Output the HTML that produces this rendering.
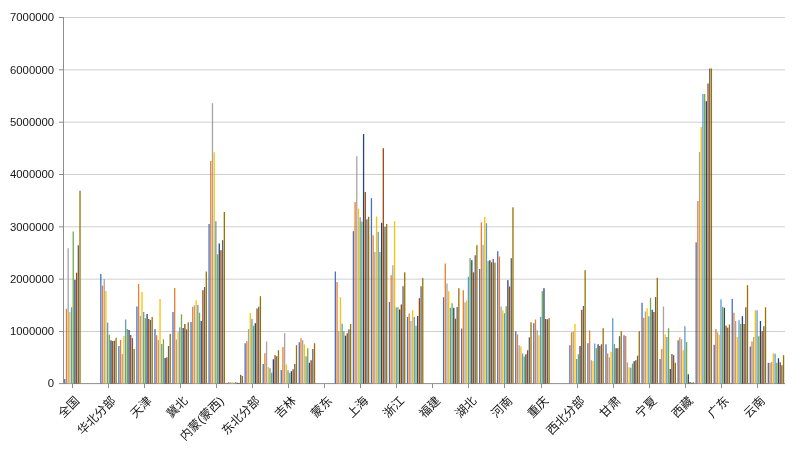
<!DOCTYPE html>
<html><head><meta charset="utf-8"><title>chart</title>
<style>html,body{margin:0;padding:0;background:#fff}svg{display:block}text{font-family:"Liberation Sans","Noto Sans CJK SC",sans-serif;fill:#161616}</style></head><body>
<svg width="798" height="453" viewBox="0 0 798 453">
<rect width="798" height="453" fill="#fff"/>
<rect x="64" y="331.00" width="721.00" height="1" fill="#d9d9d9"/>
<rect x="64" y="278.66" width="721.00" height="1" fill="#d9d9d9"/>
<rect x="64" y="226.33" width="721.00" height="1" fill="#d9d9d9"/>
<rect x="64" y="174.00" width="721.00" height="1" fill="#d9d9d9"/>
<rect x="64" y="121.67" width="721.00" height="1" fill="#d9d9d9"/>
<rect x="64" y="69.33" width="721.00" height="1" fill="#d9d9d9"/>
<rect x="64" y="17.00" width="721.00" height="1" fill="#d9d9d9"/>
<rect x="63" y="17.00" width="1" height="366.60" fill="#8e8e8e"/>
<rect x="63" y="383.1" width="722.00" height="1" fill="#8e8e8e"/>
<rect x="64.11" y="379.0" width="1.3" height="4.6" fill="#4472C4"/>
<rect x="65.80" y="308.8" width="1.3" height="74.9" fill="#ED7D31"/>
<rect x="67.50" y="248.2" width="1.3" height="135.4" fill="#A5A5A5"/>
<rect x="69.19" y="311.9" width="1.3" height="71.7" fill="#FFC000"/>
<rect x="70.89" y="307.3" width="1.3" height="76.3" fill="#5B9BD5"/>
<rect x="72.58" y="231.5" width="1.3" height="152.1" fill="#70AD47"/>
<rect x="74.28" y="279.8" width="1.3" height="103.8" fill="#264478"/>
<rect x="75.97" y="272.7" width="1.3" height="110.9" fill="#9E480E"/>
<rect x="77.67" y="245.2" width="1.3" height="138.4" fill="#636363"/>
<rect x="79.36" y="190.7" width="1.3" height="192.9" fill="#997300"/>
<rect x="100.19" y="274.0" width="1.3" height="109.6" fill="#4472C4"/>
<rect x="101.88" y="285.7" width="1.3" height="97.9" fill="#ED7D31"/>
<rect x="103.58" y="279.0" width="1.3" height="104.6" fill="#A5A5A5"/>
<rect x="105.27" y="291.0" width="1.3" height="92.6" fill="#FFC000"/>
<rect x="106.97" y="322.7" width="1.3" height="60.9" fill="#5B9BD5"/>
<rect x="108.66" y="334.8" width="1.3" height="48.8" fill="#70AD47"/>
<rect x="110.36" y="340.3" width="1.3" height="43.3" fill="#264478"/>
<rect x="112.05" y="341.0" width="1.3" height="42.6" fill="#9E480E"/>
<rect x="113.75" y="340.7" width="1.3" height="42.9" fill="#636363"/>
<rect x="115.44" y="337.8" width="1.3" height="45.8" fill="#997300"/>
<rect x="118.23" y="346.0" width="1.3" height="37.6" fill="#4472C4"/>
<rect x="119.92" y="340.0" width="1.3" height="43.6" fill="#ED7D31"/>
<rect x="121.62" y="354.0" width="1.3" height="29.6" fill="#A5A5A5"/>
<rect x="123.31" y="336.0" width="1.3" height="47.6" fill="#FFC000"/>
<rect x="125.01" y="319.5" width="1.3" height="64.1" fill="#5B9BD5"/>
<rect x="126.70" y="329.0" width="1.3" height="54.6" fill="#70AD47"/>
<rect x="128.40" y="330.0" width="1.3" height="53.6" fill="#264478"/>
<rect x="130.09" y="335.0" width="1.3" height="48.6" fill="#9E480E"/>
<rect x="131.79" y="338.2" width="1.3" height="45.4" fill="#636363"/>
<rect x="133.49" y="349.0" width="1.3" height="34.6" fill="#997300"/>
<rect x="136.27" y="306.5" width="1.3" height="77.1" fill="#4472C4"/>
<rect x="137.96" y="284.0" width="1.3" height="99.6" fill="#ED7D31"/>
<rect x="139.66" y="316.0" width="1.3" height="67.6" fill="#A5A5A5"/>
<rect x="141.35" y="291.8" width="1.3" height="91.8" fill="#FFC000"/>
<rect x="143.05" y="312.0" width="1.3" height="71.6" fill="#5B9BD5"/>
<rect x="144.74" y="318.2" width="1.3" height="65.4" fill="#70AD47"/>
<rect x="146.44" y="314.0" width="1.3" height="69.6" fill="#264478"/>
<rect x="148.13" y="319.0" width="1.3" height="64.6" fill="#9E480E"/>
<rect x="149.83" y="320.0" width="1.3" height="63.6" fill="#636363"/>
<rect x="151.52" y="317.0" width="1.3" height="66.6" fill="#997300"/>
<rect x="154.31" y="329.0" width="1.3" height="54.6" fill="#4472C4"/>
<rect x="156.00" y="335.2" width="1.3" height="48.4" fill="#ED7D31"/>
<rect x="157.70" y="340.0" width="1.3" height="43.6" fill="#A5A5A5"/>
<rect x="159.39" y="299.0" width="1.3" height="84.6" fill="#FFC000"/>
<rect x="161.09" y="344.0" width="1.3" height="39.6" fill="#5B9BD5"/>
<rect x="162.78" y="339.3" width="1.3" height="44.3" fill="#70AD47"/>
<rect x="164.48" y="358.0" width="1.3" height="25.6" fill="#264478"/>
<rect x="166.17" y="357.3" width="1.3" height="26.3" fill="#9E480E"/>
<rect x="167.87" y="346.0" width="1.3" height="37.6" fill="#636363"/>
<rect x="169.56" y="334.0" width="1.3" height="49.6" fill="#997300"/>
<rect x="172.35" y="312.0" width="1.3" height="71.6" fill="#4472C4"/>
<rect x="174.04" y="288.0" width="1.3" height="95.6" fill="#ED7D31"/>
<rect x="175.74" y="339.5" width="1.3" height="44.1" fill="#A5A5A5"/>
<rect x="177.44" y="331.8" width="1.3" height="51.8" fill="#FFC000"/>
<rect x="179.13" y="327.3" width="1.3" height="56.3" fill="#5B9BD5"/>
<rect x="180.82" y="314.3" width="1.3" height="69.3" fill="#70AD47"/>
<rect x="182.52" y="328.0" width="1.3" height="55.6" fill="#264478"/>
<rect x="184.22" y="324.0" width="1.3" height="59.6" fill="#9E480E"/>
<rect x="185.91" y="329.3" width="1.3" height="54.3" fill="#636363"/>
<rect x="187.60" y="322.3" width="1.3" height="61.3" fill="#997300"/>
<rect x="190.39" y="322.0" width="1.3" height="61.6" fill="#4472C4"/>
<rect x="192.08" y="306.8" width="1.3" height="76.8" fill="#ED7D31"/>
<rect x="193.78" y="305.3" width="1.3" height="78.3" fill="#A5A5A5"/>
<rect x="195.47" y="300.2" width="1.3" height="83.4" fill="#FFC000"/>
<rect x="197.17" y="304.8" width="1.3" height="78.8" fill="#5B9BD5"/>
<rect x="198.86" y="312.7" width="1.3" height="70.9" fill="#70AD47"/>
<rect x="200.56" y="321.0" width="1.3" height="62.6" fill="#264478"/>
<rect x="202.25" y="290.2" width="1.3" height="93.4" fill="#9E480E"/>
<rect x="203.95" y="287.0" width="1.3" height="96.6" fill="#636363"/>
<rect x="205.64" y="271.5" width="1.3" height="112.1" fill="#997300"/>
<rect x="208.43" y="224.0" width="1.3" height="159.6" fill="#4472C4"/>
<rect x="210.12" y="161.0" width="1.3" height="222.6" fill="#ED7D31"/>
<rect x="211.82" y="103.2" width="1.3" height="280.4" fill="#A5A5A5"/>
<rect x="213.51" y="152.3" width="1.3" height="231.3" fill="#FFC000"/>
<rect x="215.21" y="221.2" width="1.3" height="162.4" fill="#5B9BD5"/>
<rect x="216.90" y="254.3" width="1.3" height="129.3" fill="#70AD47"/>
<rect x="218.60" y="243.5" width="1.3" height="140.1" fill="#264478"/>
<rect x="220.29" y="250.2" width="1.3" height="133.4" fill="#9E480E"/>
<rect x="221.99" y="240.2" width="1.3" height="143.4" fill="#636363"/>
<rect x="223.68" y="212.0" width="1.3" height="171.6" fill="#997300"/>
<rect x="226.47" y="382.8" width="1.3" height="0.8" fill="#4472C4"/>
<rect x="228.16" y="382.0" width="1.3" height="1.6" fill="#ED7D31"/>
<rect x="229.86" y="382.3" width="1.3" height="1.3" fill="#A5A5A5"/>
<rect x="231.55" y="382.3" width="1.3" height="1.3" fill="#FFC000"/>
<rect x="233.25" y="382.8" width="1.3" height="0.8" fill="#5B9BD5"/>
<rect x="234.94" y="382.0" width="1.3" height="1.6" fill="#70AD47"/>
<rect x="236.64" y="382.8" width="1.3" height="0.8" fill="#264478"/>
<rect x="238.33" y="382.8" width="1.3" height="0.8" fill="#9E480E"/>
<rect x="240.03" y="374.8" width="1.3" height="8.8" fill="#636363"/>
<rect x="241.72" y="376.0" width="1.3" height="7.6" fill="#997300"/>
<rect x="244.51" y="343.3" width="1.3" height="40.3" fill="#4472C4"/>
<rect x="246.20" y="341.2" width="1.3" height="42.4" fill="#ED7D31"/>
<rect x="247.90" y="329.0" width="1.3" height="54.6" fill="#A5A5A5"/>
<rect x="249.59" y="313.0" width="1.3" height="70.6" fill="#FFC000"/>
<rect x="251.29" y="319.0" width="1.3" height="64.6" fill="#5B9BD5"/>
<rect x="252.98" y="325.7" width="1.3" height="57.9" fill="#70AD47"/>
<rect x="254.68" y="323.2" width="1.3" height="60.4" fill="#264478"/>
<rect x="256.38" y="308.5" width="1.3" height="75.1" fill="#9E480E"/>
<rect x="258.07" y="306.8" width="1.3" height="76.8" fill="#636363"/>
<rect x="259.76" y="296.2" width="1.3" height="87.4" fill="#997300"/>
<rect x="262.55" y="364.0" width="1.3" height="19.6" fill="#4472C4"/>
<rect x="264.25" y="353.2" width="1.3" height="30.4" fill="#ED7D31"/>
<rect x="265.94" y="341.5" width="1.3" height="42.1" fill="#A5A5A5"/>
<rect x="267.63" y="367.0" width="1.3" height="16.6" fill="#FFC000"/>
<rect x="269.33" y="368.2" width="1.3" height="15.4" fill="#5B9BD5"/>
<rect x="271.03" y="372.7" width="1.3" height="10.9" fill="#70AD47"/>
<rect x="272.72" y="359.3" width="1.3" height="24.3" fill="#264478"/>
<rect x="274.42" y="355.2" width="1.3" height="28.4" fill="#9E480E"/>
<rect x="276.11" y="356.2" width="1.3" height="27.4" fill="#636363"/>
<rect x="277.81" y="350.3" width="1.3" height="33.3" fill="#997300"/>
<rect x="280.59" y="370.0" width="1.3" height="13.6" fill="#4472C4"/>
<rect x="282.29" y="347.0" width="1.3" height="36.6" fill="#ED7D31"/>
<rect x="283.98" y="333.2" width="1.3" height="50.4" fill="#A5A5A5"/>
<rect x="285.68" y="364.5" width="1.3" height="19.1" fill="#FFC000"/>
<rect x="287.37" y="370.2" width="1.3" height="13.4" fill="#5B9BD5"/>
<rect x="289.07" y="372.8" width="1.3" height="10.8" fill="#70AD47"/>
<rect x="290.76" y="371.2" width="1.3" height="12.4" fill="#264478"/>
<rect x="292.46" y="369.3" width="1.3" height="14.3" fill="#9E480E"/>
<rect x="294.15" y="364.0" width="1.3" height="19.6" fill="#636363"/>
<rect x="295.85" y="345.2" width="1.3" height="38.4" fill="#997300"/>
<rect x="298.63" y="342.3" width="1.3" height="41.3" fill="#4472C4"/>
<rect x="300.32" y="338.2" width="1.3" height="45.4" fill="#ED7D31"/>
<rect x="302.02" y="340.2" width="1.3" height="43.4" fill="#A5A5A5"/>
<rect x="303.71" y="344.3" width="1.3" height="39.3" fill="#FFC000"/>
<rect x="305.41" y="356.2" width="1.3" height="27.4" fill="#5B9BD5"/>
<rect x="307.11" y="348.3" width="1.3" height="35.3" fill="#70AD47"/>
<rect x="308.80" y="362.8" width="1.3" height="20.8" fill="#264478"/>
<rect x="310.50" y="360.2" width="1.3" height="23.4" fill="#9E480E"/>
<rect x="312.19" y="349.0" width="1.3" height="34.6" fill="#636363"/>
<rect x="313.88" y="343.2" width="1.3" height="40.4" fill="#997300"/>
<rect x="334.71" y="271.5" width="1.3" height="112.1" fill="#4472C4"/>
<rect x="336.40" y="282.0" width="1.3" height="101.6" fill="#ED7D31"/>
<rect x="338.10" y="331.2" width="1.3" height="52.4" fill="#A5A5A5"/>
<rect x="339.79" y="297.3" width="1.3" height="86.3" fill="#FFC000"/>
<rect x="341.49" y="323.7" width="1.3" height="59.9" fill="#5B9BD5"/>
<rect x="343.19" y="331.2" width="1.3" height="52.4" fill="#70AD47"/>
<rect x="344.88" y="335.7" width="1.3" height="47.9" fill="#264478"/>
<rect x="346.57" y="333.2" width="1.3" height="50.4" fill="#9E480E"/>
<rect x="348.27" y="329.3" width="1.3" height="54.3" fill="#636363"/>
<rect x="349.96" y="324.0" width="1.3" height="59.6" fill="#997300"/>
<rect x="352.75" y="231.2" width="1.3" height="152.4" fill="#4472C4"/>
<rect x="354.44" y="202.0" width="1.3" height="181.6" fill="#ED7D31"/>
<rect x="356.14" y="156.2" width="1.3" height="227.4" fill="#A5A5A5"/>
<rect x="357.83" y="208.7" width="1.3" height="174.9" fill="#FFC000"/>
<rect x="359.53" y="217.3" width="1.3" height="166.3" fill="#5B9BD5"/>
<rect x="361.23" y="221.5" width="1.3" height="162.1" fill="#70AD47"/>
<rect x="362.92" y="134.0" width="1.3" height="249.6" fill="#264478"/>
<rect x="364.62" y="192.0" width="1.3" height="191.6" fill="#9E480E"/>
<rect x="366.31" y="219.3" width="1.3" height="164.3" fill="#636363"/>
<rect x="368.00" y="216.8" width="1.3" height="166.8" fill="#997300"/>
<rect x="370.79" y="198.2" width="1.3" height="185.4" fill="#4472C4"/>
<rect x="372.49" y="235.3" width="1.3" height="148.3" fill="#ED7D31"/>
<rect x="374.18" y="252.0" width="1.3" height="131.6" fill="#A5A5A5"/>
<rect x="375.88" y="216.5" width="1.3" height="167.1" fill="#FFC000"/>
<rect x="377.57" y="231.8" width="1.3" height="151.8" fill="#5B9BD5"/>
<rect x="379.27" y="252.0" width="1.3" height="131.6" fill="#70AD47"/>
<rect x="380.96" y="222.8" width="1.3" height="160.8" fill="#264478"/>
<rect x="382.66" y="148.2" width="1.3" height="235.4" fill="#9E480E"/>
<rect x="384.35" y="226.8" width="1.3" height="156.8" fill="#636363"/>
<rect x="386.05" y="224.0" width="1.3" height="159.6" fill="#997300"/>
<rect x="388.83" y="302.0" width="1.3" height="81.6" fill="#4472C4"/>
<rect x="390.52" y="275.2" width="1.3" height="108.4" fill="#ED7D31"/>
<rect x="392.22" y="265.3" width="1.3" height="118.3" fill="#A5A5A5"/>
<rect x="393.91" y="221.2" width="1.3" height="162.4" fill="#FFC000"/>
<rect x="395.61" y="307.3" width="1.3" height="76.3" fill="#5B9BD5"/>
<rect x="397.31" y="307.3" width="1.3" height="76.3" fill="#70AD47"/>
<rect x="399.00" y="309.5" width="1.3" height="74.1" fill="#264478"/>
<rect x="400.69" y="304.5" width="1.3" height="79.1" fill="#9E480E"/>
<rect x="402.39" y="286.2" width="1.3" height="97.4" fill="#636363"/>
<rect x="404.08" y="272.3" width="1.3" height="111.3" fill="#997300"/>
<rect x="406.87" y="317.0" width="1.3" height="66.6" fill="#4472C4"/>
<rect x="408.56" y="313.5" width="1.3" height="70.1" fill="#ED7D31"/>
<rect x="410.26" y="321.0" width="1.3" height="62.6" fill="#A5A5A5"/>
<rect x="411.95" y="310.3" width="1.3" height="73.3" fill="#FFC000"/>
<rect x="413.65" y="317.0" width="1.3" height="66.6" fill="#5B9BD5"/>
<rect x="415.35" y="325.7" width="1.3" height="57.9" fill="#70AD47"/>
<rect x="417.04" y="316.0" width="1.3" height="67.6" fill="#264478"/>
<rect x="418.74" y="298.2" width="1.3" height="85.4" fill="#9E480E"/>
<rect x="420.43" y="286.2" width="1.3" height="97.4" fill="#636363"/>
<rect x="422.12" y="278.2" width="1.3" height="105.4" fill="#997300"/>
<rect x="442.95" y="297.3" width="1.3" height="86.3" fill="#4472C4"/>
<rect x="444.64" y="263.5" width="1.3" height="120.1" fill="#ED7D31"/>
<rect x="446.34" y="283.5" width="1.3" height="100.1" fill="#A5A5A5"/>
<rect x="448.03" y="291.2" width="1.3" height="92.4" fill="#FFC000"/>
<rect x="449.73" y="307.8" width="1.3" height="75.8" fill="#5B9BD5"/>
<rect x="451.43" y="303.2" width="1.3" height="80.4" fill="#70AD47"/>
<rect x="453.12" y="307.8" width="1.3" height="75.8" fill="#264478"/>
<rect x="454.81" y="318.7" width="1.3" height="64.9" fill="#9E480E"/>
<rect x="456.51" y="307.0" width="1.3" height="76.6" fill="#636363"/>
<rect x="458.20" y="288.2" width="1.3" height="95.4" fill="#997300"/>
<rect x="460.99" y="328.5" width="1.3" height="55.1" fill="#4472C4"/>
<rect x="462.69" y="290.2" width="1.3" height="93.4" fill="#ED7D31"/>
<rect x="464.38" y="302.3" width="1.3" height="81.3" fill="#A5A5A5"/>
<rect x="466.07" y="300.3" width="1.3" height="83.3" fill="#FFC000"/>
<rect x="467.77" y="276.8" width="1.3" height="106.8" fill="#5B9BD5"/>
<rect x="469.47" y="258.2" width="1.3" height="125.4" fill="#70AD47"/>
<rect x="471.16" y="260.2" width="1.3" height="123.4" fill="#264478"/>
<rect x="472.86" y="272.3" width="1.3" height="111.3" fill="#9E480E"/>
<rect x="474.55" y="255.3" width="1.3" height="128.3" fill="#636363"/>
<rect x="476.25" y="245.2" width="1.3" height="138.4" fill="#997300"/>
<rect x="479.03" y="269.0" width="1.3" height="114.6" fill="#4472C4"/>
<rect x="480.72" y="222.3" width="1.3" height="161.3" fill="#ED7D31"/>
<rect x="482.42" y="244.8" width="1.3" height="138.8" fill="#A5A5A5"/>
<rect x="484.11" y="217.0" width="1.3" height="166.6" fill="#FFC000"/>
<rect x="485.81" y="223.2" width="1.3" height="160.4" fill="#5B9BD5"/>
<rect x="487.50" y="261.0" width="1.3" height="122.6" fill="#70AD47"/>
<rect x="489.20" y="260.2" width="1.3" height="123.4" fill="#264478"/>
<rect x="490.89" y="262.3" width="1.3" height="121.3" fill="#9E480E"/>
<rect x="492.59" y="259.0" width="1.3" height="124.6" fill="#636363"/>
<rect x="494.28" y="262.7" width="1.3" height="120.9" fill="#997300"/>
<rect x="497.07" y="251.2" width="1.3" height="132.4" fill="#4472C4"/>
<rect x="498.76" y="256.5" width="1.3" height="127.1" fill="#ED7D31"/>
<rect x="500.46" y="306.5" width="1.3" height="77.1" fill="#A5A5A5"/>
<rect x="502.15" y="310.3" width="1.3" height="73.3" fill="#FFC000"/>
<rect x="503.85" y="313.2" width="1.3" height="70.4" fill="#5B9BD5"/>
<rect x="505.55" y="306.2" width="1.3" height="77.4" fill="#70AD47"/>
<rect x="507.24" y="280.2" width="1.3" height="103.4" fill="#264478"/>
<rect x="508.94" y="286.5" width="1.3" height="97.1" fill="#9E480E"/>
<rect x="510.63" y="258.2" width="1.3" height="125.4" fill="#636363"/>
<rect x="512.33" y="207.3" width="1.3" height="176.3" fill="#997300"/>
<rect x="515.11" y="331.2" width="1.3" height="52.4" fill="#4472C4"/>
<rect x="516.81" y="334.3" width="1.3" height="49.3" fill="#ED7D31"/>
<rect x="518.50" y="345.3" width="1.3" height="38.3" fill="#A5A5A5"/>
<rect x="520.20" y="346.5" width="1.3" height="37.1" fill="#FFC000"/>
<rect x="521.89" y="353.5" width="1.3" height="30.1" fill="#5B9BD5"/>
<rect x="523.59" y="356.5" width="1.3" height="27.1" fill="#70AD47"/>
<rect x="525.28" y="354.3" width="1.3" height="29.3" fill="#264478"/>
<rect x="526.98" y="350.3" width="1.3" height="33.3" fill="#9E480E"/>
<rect x="528.67" y="337.3" width="1.3" height="46.3" fill="#636363"/>
<rect x="530.37" y="322.3" width="1.3" height="61.3" fill="#997300"/>
<rect x="533.15" y="323.2" width="1.3" height="60.4" fill="#4472C4"/>
<rect x="534.85" y="319.5" width="1.3" height="64.1" fill="#ED7D31"/>
<rect x="536.54" y="330.2" width="1.3" height="53.4" fill="#A5A5A5"/>
<rect x="538.24" y="335.2" width="1.3" height="48.4" fill="#FFC000"/>
<rect x="539.93" y="317.0" width="1.3" height="66.6" fill="#5B9BD5"/>
<rect x="541.62" y="291.2" width="1.3" height="92.4" fill="#70AD47"/>
<rect x="543.32" y="288.2" width="1.3" height="95.4" fill="#264478"/>
<rect x="545.01" y="319.0" width="1.3" height="64.6" fill="#9E480E"/>
<rect x="546.71" y="319.3" width="1.3" height="64.3" fill="#636363"/>
<rect x="548.40" y="318.2" width="1.3" height="65.4" fill="#997300"/>
<rect x="569.23" y="345.2" width="1.3" height="38.4" fill="#4472C4"/>
<rect x="570.93" y="332.3" width="1.3" height="51.3" fill="#ED7D31"/>
<rect x="572.62" y="331.5" width="1.3" height="52.1" fill="#A5A5A5"/>
<rect x="574.32" y="324.0" width="1.3" height="59.6" fill="#FFC000"/>
<rect x="576.01" y="359.0" width="1.3" height="24.6" fill="#5B9BD5"/>
<rect x="577.71" y="354.3" width="1.3" height="29.3" fill="#70AD47"/>
<rect x="579.40" y="346.0" width="1.3" height="37.6" fill="#264478"/>
<rect x="581.10" y="309.8" width="1.3" height="73.8" fill="#9E480E"/>
<rect x="582.79" y="306.0" width="1.3" height="77.6" fill="#636363"/>
<rect x="584.49" y="270.2" width="1.3" height="113.4" fill="#997300"/>
<rect x="587.27" y="343.2" width="1.3" height="40.4" fill="#4472C4"/>
<rect x="588.97" y="330.3" width="1.3" height="53.3" fill="#ED7D31"/>
<rect x="590.66" y="360.2" width="1.3" height="23.4" fill="#A5A5A5"/>
<rect x="592.36" y="361.0" width="1.3" height="22.6" fill="#FFC000"/>
<rect x="594.05" y="343.5" width="1.3" height="40.1" fill="#5B9BD5"/>
<rect x="595.75" y="348.2" width="1.3" height="35.4" fill="#70AD47"/>
<rect x="597.44" y="344.3" width="1.3" height="39.3" fill="#264478"/>
<rect x="599.13" y="346.0" width="1.3" height="37.6" fill="#9E480E"/>
<rect x="600.83" y="344.3" width="1.3" height="39.3" fill="#636363"/>
<rect x="602.52" y="328.2" width="1.3" height="55.4" fill="#997300"/>
<rect x="605.31" y="344.3" width="1.3" height="39.3" fill="#4472C4"/>
<rect x="607.00" y="353.5" width="1.3" height="30.1" fill="#ED7D31"/>
<rect x="608.70" y="357.3" width="1.3" height="26.3" fill="#A5A5A5"/>
<rect x="610.39" y="351.8" width="1.3" height="31.8" fill="#FFC000"/>
<rect x="612.09" y="318.2" width="1.3" height="65.4" fill="#5B9BD5"/>
<rect x="613.78" y="344.0" width="1.3" height="39.6" fill="#70AD47"/>
<rect x="615.48" y="348.2" width="1.3" height="35.4" fill="#264478"/>
<rect x="617.17" y="348.2" width="1.3" height="35.4" fill="#9E480E"/>
<rect x="618.87" y="336.2" width="1.3" height="47.4" fill="#636363"/>
<rect x="620.56" y="331.2" width="1.3" height="52.4" fill="#997300"/>
<rect x="623.35" y="335.2" width="1.3" height="48.4" fill="#4472C4"/>
<rect x="625.05" y="336.0" width="1.3" height="47.6" fill="#ED7D31"/>
<rect x="626.74" y="362.3" width="1.3" height="21.3" fill="#A5A5A5"/>
<rect x="628.44" y="367.3" width="1.3" height="16.3" fill="#FFC000"/>
<rect x="630.13" y="367.7" width="1.3" height="15.9" fill="#5B9BD5"/>
<rect x="631.83" y="363.7" width="1.3" height="19.9" fill="#70AD47"/>
<rect x="633.52" y="361.2" width="1.3" height="22.4" fill="#264478"/>
<rect x="635.22" y="360.2" width="1.3" height="23.4" fill="#9E480E"/>
<rect x="636.91" y="355.7" width="1.3" height="27.9" fill="#636363"/>
<rect x="638.61" y="331.2" width="1.3" height="52.4" fill="#997300"/>
<rect x="641.39" y="302.8" width="1.3" height="80.8" fill="#4472C4"/>
<rect x="643.09" y="317.8" width="1.3" height="65.8" fill="#ED7D31"/>
<rect x="644.78" y="311.5" width="1.3" height="72.1" fill="#A5A5A5"/>
<rect x="646.48" y="308.2" width="1.3" height="75.4" fill="#FFC000"/>
<rect x="648.17" y="316.2" width="1.3" height="67.4" fill="#5B9BD5"/>
<rect x="649.87" y="297.8" width="1.3" height="85.8" fill="#70AD47"/>
<rect x="651.56" y="309.8" width="1.3" height="73.8" fill="#264478"/>
<rect x="653.25" y="312.0" width="1.3" height="71.6" fill="#9E480E"/>
<rect x="654.95" y="297.0" width="1.3" height="86.6" fill="#636363"/>
<rect x="656.64" y="277.8" width="1.3" height="105.8" fill="#997300"/>
<rect x="659.43" y="359.0" width="1.3" height="24.6" fill="#4472C4"/>
<rect x="661.12" y="349.0" width="1.3" height="34.6" fill="#ED7D31"/>
<rect x="662.82" y="306.5" width="1.3" height="77.1" fill="#A5A5A5"/>
<rect x="664.51" y="334.5" width="1.3" height="49.1" fill="#FFC000"/>
<rect x="666.21" y="337.0" width="1.3" height="46.6" fill="#5B9BD5"/>
<rect x="667.90" y="328.2" width="1.3" height="55.4" fill="#70AD47"/>
<rect x="669.60" y="369.0" width="1.3" height="14.6" fill="#264478"/>
<rect x="671.29" y="354.0" width="1.3" height="29.6" fill="#9E480E"/>
<rect x="672.99" y="355.2" width="1.3" height="28.4" fill="#636363"/>
<rect x="674.68" y="362.8" width="1.3" height="20.8" fill="#997300"/>
<rect x="677.47" y="340.2" width="1.3" height="43.4" fill="#4472C4"/>
<rect x="679.17" y="337.3" width="1.3" height="46.3" fill="#ED7D31"/>
<rect x="680.86" y="339.3" width="1.3" height="44.3" fill="#A5A5A5"/>
<rect x="682.56" y="350.2" width="1.3" height="33.4" fill="#FFC000"/>
<rect x="684.25" y="326.2" width="1.3" height="57.4" fill="#5B9BD5"/>
<rect x="685.95" y="342.0" width="1.3" height="41.6" fill="#70AD47"/>
<rect x="687.64" y="374.3" width="1.3" height="9.3" fill="#264478"/>
<rect x="689.34" y="382.0" width="1.3" height="1.6" fill="#9E480E"/>
<rect x="691.03" y="382.7" width="1.3" height="0.9" fill="#636363"/>
<rect x="692.73" y="382.3" width="1.3" height="1.3" fill="#997300"/>
<rect x="695.51" y="242.3" width="1.3" height="141.3" fill="#4472C4"/>
<rect x="697.21" y="201.0" width="1.3" height="182.6" fill="#ED7D31"/>
<rect x="698.90" y="152.0" width="1.3" height="231.6" fill="#A5A5A5"/>
<rect x="700.60" y="127.0" width="1.3" height="256.6" fill="#FFC000"/>
<rect x="702.29" y="94.0" width="1.3" height="289.6" fill="#5B9BD5"/>
<rect x="703.99" y="94.0" width="1.3" height="289.6" fill="#70AD47"/>
<rect x="705.68" y="101.2" width="1.3" height="282.4" fill="#264478"/>
<rect x="707.38" y="83.5" width="1.3" height="300.1" fill="#9E480E"/>
<rect x="709.07" y="68.5" width="1.3" height="315.1" fill="#636363"/>
<rect x="710.76" y="68.5" width="1.3" height="315.1" fill="#997300"/>
<rect x="713.55" y="344.8" width="1.3" height="38.8" fill="#4472C4"/>
<rect x="715.25" y="329.0" width="1.3" height="54.6" fill="#ED7D31"/>
<rect x="716.94" y="332.3" width="1.3" height="51.3" fill="#A5A5A5"/>
<rect x="718.63" y="334.8" width="1.3" height="48.8" fill="#FFC000"/>
<rect x="720.33" y="299.3" width="1.3" height="84.3" fill="#5B9BD5"/>
<rect x="722.02" y="306.8" width="1.3" height="76.8" fill="#70AD47"/>
<rect x="723.72" y="307.8" width="1.3" height="75.8" fill="#264478"/>
<rect x="725.41" y="325.7" width="1.3" height="57.9" fill="#9E480E"/>
<rect x="727.11" y="327.7" width="1.3" height="55.9" fill="#636363"/>
<rect x="728.80" y="324.5" width="1.3" height="59.1" fill="#997300"/>
<rect x="731.59" y="299.0" width="1.3" height="84.6" fill="#4472C4"/>
<rect x="733.29" y="312.7" width="1.3" height="70.9" fill="#ED7D31"/>
<rect x="734.98" y="321.0" width="1.3" height="62.6" fill="#A5A5A5"/>
<rect x="736.68" y="337.0" width="1.3" height="46.6" fill="#FFC000"/>
<rect x="738.37" y="320.2" width="1.3" height="63.4" fill="#5B9BD5"/>
<rect x="740.07" y="324.0" width="1.3" height="59.6" fill="#70AD47"/>
<rect x="741.76" y="316.2" width="1.3" height="67.4" fill="#264478"/>
<rect x="743.46" y="324.0" width="1.3" height="59.6" fill="#9E480E"/>
<rect x="745.15" y="307.3" width="1.3" height="76.3" fill="#636363"/>
<rect x="746.85" y="285.2" width="1.3" height="98.4" fill="#997300"/>
<rect x="749.63" y="346.5" width="1.3" height="37.1" fill="#4472C4"/>
<rect x="751.33" y="341.5" width="1.3" height="42.1" fill="#ED7D31"/>
<rect x="753.02" y="337.0" width="1.3" height="46.6" fill="#A5A5A5"/>
<rect x="754.72" y="310.3" width="1.3" height="73.3" fill="#FFC000"/>
<rect x="756.41" y="310.3" width="1.3" height="73.3" fill="#5B9BD5"/>
<rect x="758.11" y="336.2" width="1.3" height="47.4" fill="#70AD47"/>
<rect x="759.80" y="321.0" width="1.3" height="62.6" fill="#264478"/>
<rect x="761.50" y="331.2" width="1.3" height="52.4" fill="#9E480E"/>
<rect x="763.19" y="326.2" width="1.3" height="57.4" fill="#636363"/>
<rect x="764.88" y="307.3" width="1.3" height="76.3" fill="#997300"/>
<rect x="767.67" y="362.8" width="1.3" height="20.8" fill="#4472C4"/>
<rect x="769.37" y="362.8" width="1.3" height="20.8" fill="#ED7D31"/>
<rect x="771.06" y="362.0" width="1.3" height="21.6" fill="#A5A5A5"/>
<rect x="772.75" y="353.2" width="1.3" height="30.4" fill="#FFC000"/>
<rect x="774.45" y="353.7" width="1.3" height="29.9" fill="#5B9BD5"/>
<rect x="776.14" y="362.8" width="1.3" height="20.8" fill="#70AD47"/>
<rect x="777.84" y="358.2" width="1.3" height="25.4" fill="#264478"/>
<rect x="779.53" y="362.3" width="1.3" height="21.3" fill="#9E480E"/>
<rect x="781.23" y="365.2" width="1.3" height="18.4" fill="#636363"/>
<rect x="782.92" y="355.2" width="1.3" height="28.4" fill="#997300"/>
<rect x="64" y="331.00" width="721.00" height="1" fill="#000" fill-opacity="0.04"/>
<rect x="64" y="278.66" width="721.00" height="1" fill="#000" fill-opacity="0.04"/>
<rect x="64" y="226.33" width="721.00" height="1" fill="#000" fill-opacity="0.04"/>
<rect x="64" y="174.00" width="721.00" height="1" fill="#000" fill-opacity="0.04"/>
<rect x="64" y="121.67" width="721.00" height="1" fill="#000" fill-opacity="0.04"/>
<rect x="64" y="69.33" width="721.00" height="1" fill="#000" fill-opacity="0.04"/>
<rect x="64" y="17.00" width="721.00" height="1" fill="#000" fill-opacity="0.04"/>
<rect x="59" y="383.10" width="4" height="1" fill="#8e8e8e"/>
<text x="54.1" y="386.60" font-size="11.33" text-anchor="end">0</text>
<rect x="59" y="331.00" width="4" height="1" fill="#8e8e8e"/>
<text x="54.1" y="335.40" font-size="11.33" text-anchor="end">1000000</text>
<rect x="59" y="278.66" width="4" height="1" fill="#8e8e8e"/>
<text x="54.1" y="283.06" font-size="11.33" text-anchor="end">2000000</text>
<rect x="59" y="226.33" width="4" height="1" fill="#8e8e8e"/>
<text x="54.1" y="230.73" font-size="11.33" text-anchor="end">3000000</text>
<rect x="59" y="174.00" width="4" height="1" fill="#8e8e8e"/>
<text x="54.1" y="178.40" font-size="11.33" text-anchor="end">4000000</text>
<rect x="59" y="121.67" width="4" height="1" fill="#8e8e8e"/>
<text x="54.1" y="126.07" font-size="11.33" text-anchor="end">5000000</text>
<rect x="59" y="69.33" width="4" height="1" fill="#8e8e8e"/>
<text x="54.1" y="73.73" font-size="11.33" text-anchor="end">6000000</text>
<rect x="59" y="17.00" width="4" height="1" fill="#8e8e8e"/>
<text x="54.1" y="21.40" font-size="11.33" text-anchor="end">7000000</text>
<rect x="72" y="384" width="1" height="4" fill="#8e8e8e"/>
<text transform="translate(80.32,401.60) rotate(-45)" font-size="12" text-anchor="end">全国</text>
<rect x="108" y="384" width="1" height="4" fill="#8e8e8e"/>
<text transform="translate(116.40,401.60) rotate(-45)" font-size="12" text-anchor="end">华北分部</text>
<rect x="144" y="384" width="1" height="4" fill="#8e8e8e"/>
<text transform="translate(152.48,401.60) rotate(-45)" font-size="12" text-anchor="end">天津</text>
<rect x="180" y="384" width="1" height="4" fill="#8e8e8e"/>
<text transform="translate(188.56,401.60) rotate(-45)" font-size="12" text-anchor="end">冀北</text>
<rect x="216" y="384" width="1" height="4" fill="#8e8e8e"/>
<text transform="translate(224.64,401.60) rotate(-45)" font-size="12" text-anchor="end">内蒙(蒙西)</text>
<rect x="252" y="384" width="1" height="4" fill="#8e8e8e"/>
<text transform="translate(260.72,401.60) rotate(-45)" font-size="12" text-anchor="end">东北分部</text>
<rect x="288" y="384" width="1" height="4" fill="#8e8e8e"/>
<text transform="translate(296.80,401.60) rotate(-45)" font-size="12" text-anchor="end">吉林</text>
<rect x="324" y="384" width="1" height="4" fill="#8e8e8e"/>
<text transform="translate(332.88,401.60) rotate(-45)" font-size="12" text-anchor="end">蒙东</text>
<rect x="360" y="384" width="1" height="4" fill="#8e8e8e"/>
<text transform="translate(368.96,401.60) rotate(-45)" font-size="12" text-anchor="end">上海</text>
<rect x="396" y="384" width="1" height="4" fill="#8e8e8e"/>
<text transform="translate(405.04,401.60) rotate(-45)" font-size="12" text-anchor="end">浙江</text>
<rect x="432" y="384" width="1" height="4" fill="#8e8e8e"/>
<text transform="translate(441.12,401.60) rotate(-45)" font-size="12" text-anchor="end">福建</text>
<rect x="468" y="384" width="1" height="4" fill="#8e8e8e"/>
<text transform="translate(477.20,401.60) rotate(-45)" font-size="12" text-anchor="end">湖北</text>
<rect x="504" y="384" width="1" height="4" fill="#8e8e8e"/>
<text transform="translate(513.28,401.60) rotate(-45)" font-size="12" text-anchor="end">河南</text>
<rect x="541" y="384" width="1" height="4" fill="#8e8e8e"/>
<text transform="translate(549.36,401.60) rotate(-45)" font-size="12" text-anchor="end">重庆</text>
<rect x="577" y="384" width="1" height="4" fill="#8e8e8e"/>
<text transform="translate(585.44,401.60) rotate(-45)" font-size="12" text-anchor="end">西北分部</text>
<rect x="613" y="384" width="1" height="4" fill="#8e8e8e"/>
<text transform="translate(621.52,401.60) rotate(-45)" font-size="12" text-anchor="end">甘肃</text>
<rect x="649" y="384" width="1" height="4" fill="#8e8e8e"/>
<text transform="translate(657.60,401.60) rotate(-45)" font-size="12" text-anchor="end">宁夏</text>
<rect x="685" y="384" width="1" height="4" fill="#8e8e8e"/>
<text transform="translate(693.68,401.60) rotate(-45)" font-size="12" text-anchor="end">西藏</text>
<rect x="721" y="384" width="1" height="4" fill="#8e8e8e"/>
<text transform="translate(729.76,401.60) rotate(-45)" font-size="12" text-anchor="end">广东</text>
<rect x="757" y="384" width="1" height="4" fill="#8e8e8e"/>
<text transform="translate(765.84,401.60) rotate(-45)" font-size="12" text-anchor="end">云南</text>
</svg></body></html>
